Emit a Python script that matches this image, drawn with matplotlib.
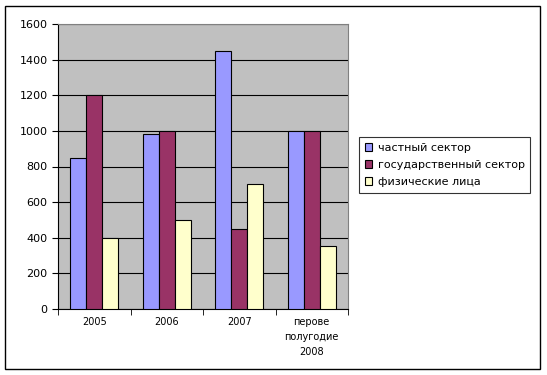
import matplotlib.pyplot as plt
import numpy as np
from matplotlib.patches import Rectangle

categories = ["2005", "2006", "2007", "перове\nполугодие\n2008"]
series_names = ["частный сектор", "государственный сектор", "физические лица"]
private = [850, 980, 1450, 1000]
state = [1200, 1000, 450, 1000]
persons = [400, 500, 700, 355]
colors = ["#9999FF", "#993366", "#FFFFCC"]

plt.rcParams["font.family"] = ["DejaVu Sans"]

fig = plt.figure(figsize=(5.47, 3.75), dpi=100)
ax = fig.add_axes([58 / 547, 1 - 309 / 375, 290 / 547, 285 / 375])
ax.set_facecolor("#C0C0C0")

x = np.arange(len(categories))
w = 0.22
for i, (vals, name) in enumerate(zip([private, state, persons], series_names)):
    ax.bar(x + (i - 1) * w, vals, w, color=colors[i], edgecolor="black",
           linewidth=0.8, label=name, zorder=3)

ax.set_xlim(-0.5, len(categories) - 0.5)
ax.set_ylim(0, 1600)
ax.set_yticks(np.arange(0, 1601, 200))
ax.yaxis.grid(True, color="black", linewidth=0.8, zorder=1)
ax.set_axisbelow(True)

ax.set_xticks(x)
ax.set_xticklabels(categories, fontsize=7, linespacing=1.6, va="top")
ax.tick_params(axis="x", which="major", length=0, pad=6)
ax.set_xticks(np.arange(-0.5, len(categories), 1), minor=True)
ax.tick_params(axis="x", which="minor", length=4, direction="out")
ax.tick_params(axis="y", length=4, direction="out", labelsize=8)

for s in ["top", "right"]:
    ax.spines[s].set_color("#808080")
    ax.spines[s].set_linewidth(0.8)
ax.spines["left"].set_linewidth(0.8)
ax.spines["bottom"].set_linewidth(0.8)

leg = ax.legend(loc="upper left", bbox_to_anchor=(359 / 547, 1 - 137 / 375),
                bbox_transform=fig.transFigure, fontsize=8, frameon=True,
                fancybox=False, edgecolor="black", handlelength=0.7,
                handleheight=0.7, handletextpad=0.5, borderpad=0.5,
                labelspacing=0.65, borderaxespad=0)
leg.get_frame().set_linewidth(0.8)

# outer chart border
fig.patches.append(Rectangle((5 / 547, 6 / 375), 535 / 547, 363 / 375,
                             transform=fig.transFigure, fill=False,
                             edgecolor="black", linewidth=1))

fig.savefig("out.png", dpi=100)
